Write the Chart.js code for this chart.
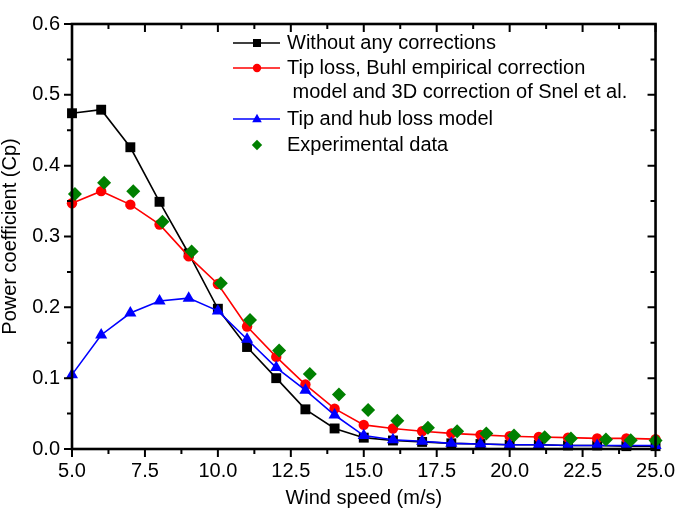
<!DOCTYPE html>
<html>
<head>
<meta charset="utf-8">
<script src="https://cdn.jsdelivr.net/npm/chart.js@4/dist/chart.umd.min.js"></script>
<style>
  html, body { margin: 0; padding: 0; background: #fff; }
  canvas { display: block; }
</style>
</head>
<body>
<canvas id="c" width="685" height="517"></canvas>
<script>
// ---- data ----
const windSpeed = [5, 6, 7, 8, 9, 10, 11, 12, 13, 14, 15, 16, 17, 18, 19, 20, 21, 22, 23, 24, 25];
const cpNoCorrections = [0.474, 0.479, 0.426, 0.349, 0.276, 0.198, 0.144, 0.100, 0.056, 0.029, 0.016, 0.012, 0.010, 0.008, 0.007, 0.006, 0.006, 0.005, 0.005, 0.004, 0.004];
const cpTipBuhlSnel = [0.347, 0.364, 0.345, 0.317, 0.272, 0.233, 0.173, 0.130, 0.091, 0.057, 0.034, 0.029, 0.025, 0.022, 0.020, 0.018, 0.017, 0.016, 0.015, 0.015, 0.014];
const cpTipHub = [0.105, 0.161, 0.192, 0.209, 0.213, 0.195, 0.155, 0.115, 0.083, 0.048, 0.019, 0.013, 0.011, 0.008, 0.007, 0.006, 0.006, 0.005, 0.005, 0.005, 0.005];
const expWindSpeed = [5.1, 6.1, 7.1, 8.1, 9.1, 10.1, 11.1, 12.1, 13.15, 14.15, 15.15, 16.15, 17.2, 18.2, 19.2, 20.15, 21.2, 22.1, 23.3, 24.15, 25.0];
const cpExperimental = [0.360, 0.376, 0.364, 0.321, 0.279, 0.234, 0.182, 0.139, 0.106, 0.077, 0.055, 0.040, 0.030, 0.025, 0.022, 0.019, 0.0165, 0.015, 0.0135, 0.0125, 0.012];
const seriesNames = [
  ['Without any corrections'],
  ['Tip loss, Buhl empirical correction', ' model and 3D correction of Snel et al.'],
  ['Tip and hub loss model'],
  ['Experimental data']
];
const xTitle = 'Wind speed (m/s)';
const yTitle = 'Power coefficient (Cp)';

const FONT = '"Liberation Sans", Arial, sans-serif';
const toPts = (xs, ys) => xs.map((x, i) => ({ x: x, y: ys[i] }));

const datasets = [
  { label: seriesNames[0].join(''), data: toPts(windSpeed, cpNoCorrections), borderColor: '#000000', backgroundColor: '#000000',
    pointStyle: 'rect', pointRadius: 7, borderWidth: 1.6, pointBorderWidth: 0, showLine: true, order: 4 },
  { label: seriesNames[1].join(''), data: toPts(windSpeed, cpTipBuhlSnel), borderColor: '#ff0000', backgroundColor: '#ff0000',
    pointStyle: 'circle', pointRadius: 5.2, borderWidth: 1.6, pointBorderWidth: 0, showLine: true, order: 3 },
  { label: seriesNames[2].join(''), data: toPts(windSpeed, cpTipHub), borderColor: '#0000ff', backgroundColor: '#0000ff',
    pointStyle: 'triangle', pointRadius: 7, borderWidth: 1.6, pointBorderWidth: 0, showLine: true, order: 2 },
  { label: seriesNames[3].join(''), data: toPts(expWindSpeed, cpExperimental), borderColor: '#008000', backgroundColor: '#008000',
    pointStyle: 'rectRot', pointRadius: 7, borderWidth: 0, pointBorderWidth: 0, showLine: false, order: 1 }
];
datasets.forEach(d => { d.clip = false; d.tension = 0; d.pointHoverRadius = d.pointRadius; });

// frame with inward/outward ticks (positions from the library scales)
const framePlugin = {
  id: 'frame',
  afterDatasetsDraw(chart) {
    const { ctx, chartArea: a, scales: { x, y } } = chart;
    ctx.save();
    ctx.strokeStyle = '#000';
    ctx.lineCap = 'butt';
    ctx.lineWidth = 2;
    for (let i = 0, v = x.min; v <= x.max + 1e-9; i++, v += 1.25) {
      const px = x.getPixelForValue(v);
      const len = i % 2 === 0 ? 8 : 5;
      ctx.beginPath();
      ctx.moveTo(px, a.bottom); ctx.lineTo(px, a.bottom + len);
      ctx.moveTo(px, a.top); ctx.lineTo(px, a.top + len);
      ctx.stroke();
    }
    for (let i = 0; i <= 12; i++) {
      const py = y.getPixelForValue(i * 0.05);
      const len = i % 2 === 0 ? 8 : 5;
      ctx.beginPath();
      ctx.moveTo(a.left, py); ctx.lineTo(a.left - len, py);
      ctx.moveTo(a.right, py); ctx.lineTo(a.right - len, py);
      ctx.stroke();
    }
    ctx.lineWidth = 2.6;
    ctx.strokeRect(a.left, a.top, a.right - a.left, a.bottom - a.top);
    ctx.restore();
  }
};

function drawMarker(ctx, style, cx, cy, r) {
  ctx.beginPath();
  if (style === 'rect') {
    ctx.rect(cx - r, cy - r, 2 * r, 2 * r);
  } else if (style === 'circle') {
    ctx.arc(cx, cy, r, 0, Math.PI * 2);
  } else if (style === 'triangle') {
    ctx.moveTo(cx, cy - r * 1.1);
    ctx.lineTo(cx + r, cy + r * 0.7);
    ctx.lineTo(cx - r, cy + r * 0.7);
    ctx.closePath();
  } else if (style === 'rectRot') {
    ctx.moveTo(cx, cy - r); ctx.lineTo(cx + r, cy); ctx.lineTo(cx, cy + r); ctx.lineTo(cx - r, cy);
    ctx.closePath();
  }
  ctx.fill();
}

const legendPlugin = {
  id: 'customLegend',
  afterDraw(chart) {
    const { ctx } = chart;
    const rows = [43, 68, 119, 145];
    const lineH = 24.5;
    const markerR = [4, 4.2, 4.8, 5.2];
    ctx.save();
    ctx.font = '20px ' + FONT;
    ctx.textBaseline = 'middle';
    ctx.textAlign = 'left';
    chart.data.datasets.forEach((ds, i) => {
      const yy = rows[i];
      ctx.strokeStyle = ds.borderColor;
      ctx.fillStyle = ds.backgroundColor;
      if (ds.showLine) {
        ctx.lineWidth = 1.6;
        ctx.beginPath(); ctx.moveTo(233, yy); ctx.lineTo(280, yy); ctx.stroke();
      }
      drawMarker(ctx, ds.pointStyle, 257, yy, markerR[i]);
      ctx.fillStyle = '#000';
      seriesNames[i].forEach((t, k) => ctx.fillText(t, 287, yy + k * lineH));
    });
    ctx.restore();
  }
};

new Chart(document.getElementById('c'), {
  type: 'scatter',
  data: { datasets: datasets },
  plugins: [framePlugin, legendPlugin],
  options: {
    responsive: false,
    animation: false,
    events: [],
    layout: { padding: { top: 12, right: 22, left: 0, bottom: 0 } },
    plugins: { legend: { display: false }, tooltip: { enabled: false } },
    elements: { line: { borderWidth: 1.6 } },
    scales: {
      x: {
        type: 'linear', min: 5, max: 25,
        grid: { display: false, drawTicks: false },
        border: { display: false },
        ticks: { stepSize: 2.5, autoSkip: false, maxRotation: 0, padding: 10, color: '#000',
                 font: { family: FONT, size: 20 }, callback: v => Number(v).toFixed(1) },
        title: { display: true, text: xTitle, color: '#000', font: { family: FONT, size: 20, lineHeight: 1.2 },
                 padding: { top: 0, bottom: 7 } },
        afterFit(s) { s.height = 68; }
      },
      y: {
        type: 'linear', min: 0, max: 0.6,
        grid: { display: false, drawTicks: false },
        border: { display: false },
        ticks: { stepSize: 0.1, padding: 12, color: '#000',
                 font: { family: FONT, size: 20 }, callback: v => Number(v).toFixed(1) },
        title: { display: true, text: yTitle, color: '#000', font: { family: FONT, size: 20, lineHeight: 1 },
                 padding: 0 },
        afterFit(s) { s.width = 72; }
      }
    }
  }
});
</script>
</body>
</html>
